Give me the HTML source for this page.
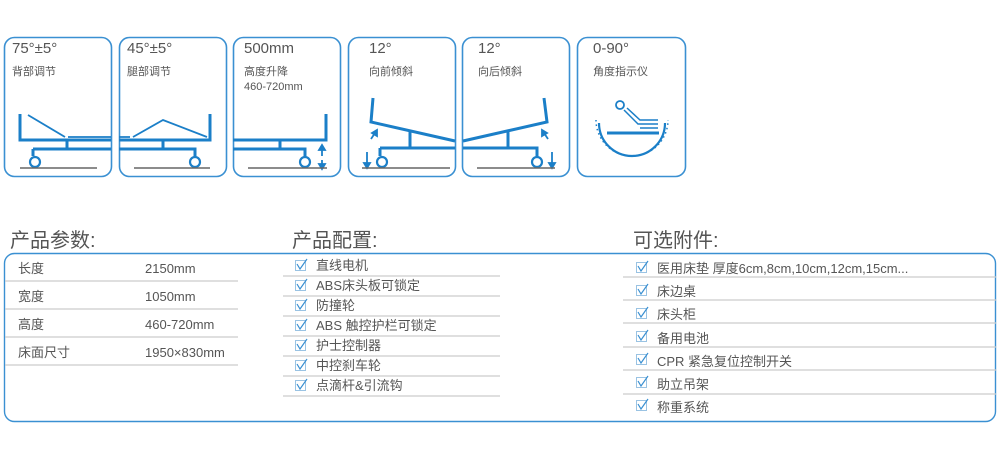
<!DOCTYPE html>
<html><head><meta charset="utf-8"><style>
body{margin:0;width:1000px;height:461px;background:#fff;position:relative;overflow:hidden;font-family:"Liberation Sans","Noto Sans CJK SC",sans-serif;color:#555}
.t{position:absolute;white-space:nowrap}
</style></head><body>
<svg width="1000" height="461" style="position:absolute;left:0;top:0" xmlns="http://www.w3.org/2000/svg">
<g fill="none" stroke="#3a90d2" stroke-width="1.6">
<rect x="4.5" y="37.5" width="107" height="139" rx="10"/>
<rect x="119.5" y="37.5" width="107" height="139" rx="10"/>
<rect x="233.5" y="37.5" width="107" height="139" rx="10"/>
<rect x="348.5" y="37.5" width="107" height="139" rx="10"/>
<rect x="462.5" y="37.5" width="107" height="139" rx="10"/>
<rect x="577.5" y="37.5" width="108" height="139" rx="10"/>
<rect x="4.5" y="253.5" width="991" height="168" rx="10" stroke-width="1.4"/>
</g>
<g fill="none" stroke="#1b7fc8" stroke-width="3">
<path d="M20 114V140H111M67 140V149M33 149H111M33 149V156"/>
<path d="M28 115L65 137M68 137H111M68 137H111" stroke-width="1.8"/>
<circle cx="35" cy="162" r="5" stroke-width="2.2"/>
<path d="M210 114V140H119M163 140V149M119 149H195V156"/>
<path d="M119 137H130M133 137L163 120L207 137" stroke-width="1.8"/>
<circle cx="195" cy="162" r="5" stroke-width="2.2"/>
<path d="M326 114V140H233M280 140V149M233 149H305V156"/>
<circle cx="305" cy="162" r="5" stroke-width="2.2"/>
<path d="M373 98L371 122L455 141M410 131V148M380 148H455M380 148V156"/>
<circle cx="382" cy="162" r="5" stroke-width="2.2"/>
<path d="M544 98L547 122L463 141M508 131V148M463 148H537V156"/>
<circle cx="537" cy="162" r="5" stroke-width="2.2"/>
<path d="M599 123A33 33 0 0 0 665 123" stroke-width="2.2"/>
<path d="M607 133H659" stroke-width="3"/>
<path d="M624 110L638 124H658M627 108L640 120H658M640 128H658" stroke-width="1.5"/>
<circle cx="620" cy="105" r="4" stroke-width="1.8"/>
</g>
<g fill="none" stroke="#1b7fc8" stroke-width="1" stroke-dasharray="1.5 3">
<path d="M596 120A36 36 0 0 0 668 120" stroke-width="1.5"/>
</g>
<g stroke="#1b7fc8" stroke-width="1.8" fill="#1b7fc8">
<path d="M322 149V156M322 160V166" fill="none"/>
<path d="M319 150L322 145L325 150Z M319 164L322 169L325 164Z"/>
<path d="M367 152V164" fill="none"/><path d="M364 163L367 168L370 163Z"/>
<path d="M371 139L375 133" fill="none"/><path d="M372 133L377 130L377 136Z"/>
<path d="M552 152V164" fill="none"/><path d="M549 163L552 168L555 163Z"/>
<path d="M548 139L544 133" fill="none"/><path d="M547 133L542 130L542 136Z"/>
</g>
<g stroke="#666" stroke-width="1.5">
<path d="M20 168H97M134 168H210M248 168H327M362 168H450M477 168H555"/>
</g>
<g stroke="#ccc" stroke-width="1.2">
<path d="M5 281H238M5 309H238M5 337H238M5 365H238"/>
<path d="M283 276H500M283 296H500M283 316H500M283 336H500M283 356H500M283 376H500M283 396H500"/>
<path d="M623 277H996M623 300H996M623 323H996M623 347H996M623 370H996M623 394H996"/>
</g>
<g fill="none" stroke="#9ac3e3" stroke-width="1">
<rect x="295.5" y="260.5" width="10" height="10"/><rect x="295.5" y="280.5" width="10" height="10"/><rect x="295.5" y="300.5" width="10" height="10"/><rect x="295.5" y="320.5" width="10" height="10"/><rect x="295.5" y="340.5" width="10" height="10"/><rect x="295.5" y="360.5" width="10" height="10"/><rect x="295.5" y="380.5" width="10" height="10"/>
<rect x="636.5" y="262.5" width="10" height="10"/><rect x="636.5" y="285.5" width="10" height="10"/><rect x="636.5" y="308.5" width="10" height="10"/><rect x="636.5" y="331.5" width="10" height="10"/><rect x="636.5" y="354.5" width="10" height="10"/><rect x="636.5" y="377.5" width="10" height="10"/><rect x="636.5" y="400.5" width="10" height="10"/>
</g>
<g fill="none" stroke="#3a90d2" stroke-width="1.2">
<path d="M297 264L300 269L307 259M297 284L300 289L307 279M297 304L300 309L307 299M297 324L300 329L307 319M297 344L300 349L307 339M297 364L300 369L307 359M297 384L300 389L307 379"/>
<path d="M638 266L641 271L648 261M638 289L641 294L648 284M638 312L641 317L648 307M638 335L641 340L648 330M638 358L641 363L648 353M638 381L641 386L648 376M638 404L641 409L648 399"/>
</g>
</svg>
<div class="t" style="left:12px;top:40px;font-size:15px">75°±5°</div>
<div class="t" style="left:12px;top:63px;font-size:11px">背部调节</div>
<div class="t" style="left:127px;top:40px;font-size:15px">45°±5°</div>
<div class="t" style="left:127px;top:63px;font-size:11px">腿部调节</div>
<div class="t" style="left:244px;top:40px;font-size:15px">500mm</div>
<div class="t" style="left:244px;top:63px;font-size:11px">高度升降</div>
<div class="t" style="left:244px;top:81px;font-size:11px">460-720mm</div>
<div class="t" style="left:369px;top:40px;font-size:15px">12°</div>
<div class="t" style="left:369px;top:63px;font-size:11px">向前倾斜</div>
<div class="t" style="left:478px;top:40px;font-size:15px">12°</div>
<div class="t" style="left:478px;top:63px;font-size:11px">向后倾斜</div>
<div class="t" style="left:593px;top:40px;font-size:15px">0-90°</div>
<div class="t" style="left:593px;top:63px;font-size:11px">角度指示仪</div>
<div class="t" style="left:10px;top:224px;font-size:20px">产品参数:</div>
<div class="t" style="left:292px;top:224px;font-size:20px">产品配置:</div>
<div class="t" style="left:633px;top:224px;font-size:20px">可选附件:</div>
<div style="position:absolute;left:18px;top:255px;font-size:13px;line-height:28px">长度<br>宽度<br>高度<br>床面尺寸</div>
<div style="position:absolute;left:145px;top:255px;font-size:13px;line-height:28px">2150mm<br>1050mm<br>460-720mm<br>1950×830mm</div>
<div style="position:absolute;left:316px;top:256px;font-size:13px;line-height:20px">直线电机<br>ABS床头板可锁定<br>防撞轮<br>ABS 触控护栏可锁定<br>护士控制器<br>中控刹车轮<br>点滴杆&amp;引流钩</div>
<div style="position:absolute;left:657px;top:257px;font-size:13px;line-height:23.2px">医用床垫 厚度6cm,8cm,10cm,12cm,15cm...<br>床边桌<br>床头柜<br>备用电池<br>CPR 紧急复位控制开关<br>助立吊架<br>称重系统</div>
</body></html>
